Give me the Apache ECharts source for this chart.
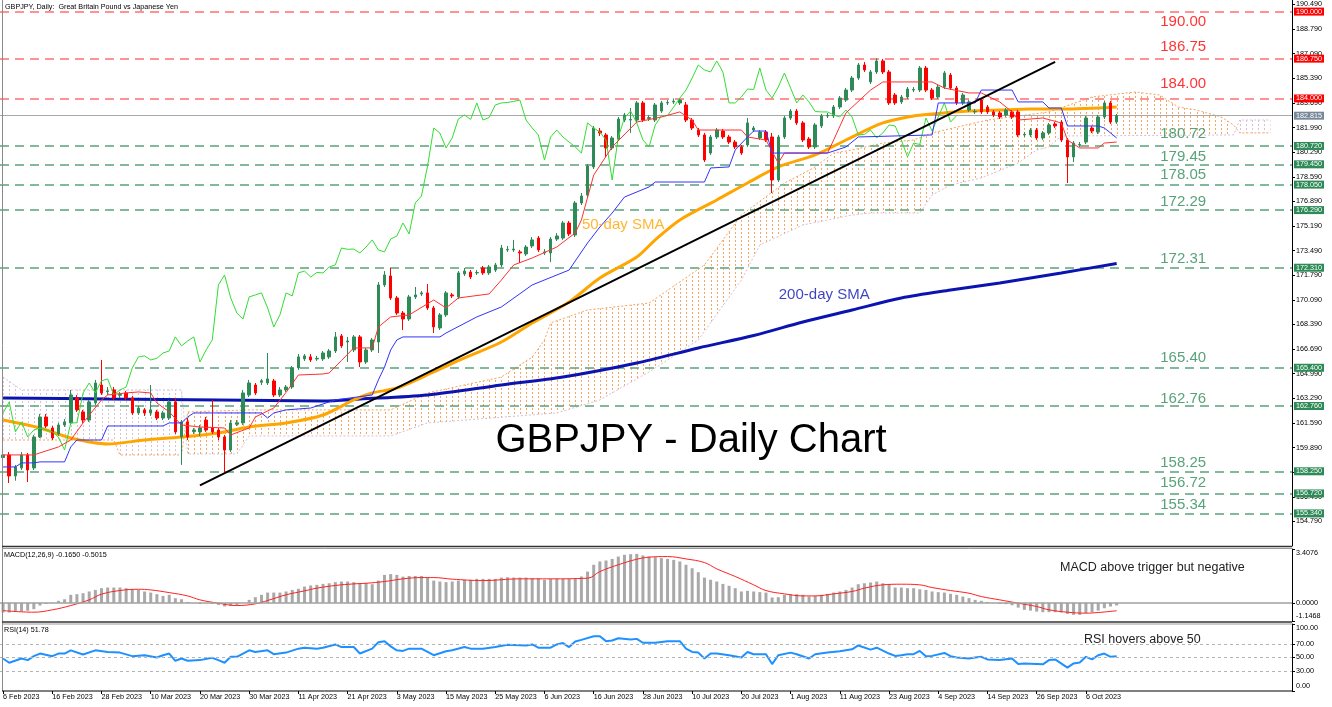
<!DOCTYPE html>
<html><head><meta charset="utf-8">
<script src="https://cdn.jsdelivr.net/npm/echarts@6/dist/echarts.min.js"></script>
<style>html,body{margin:0;padding:0;background:#fff}#c{width:1332px;height:707px}</style>
</head><body><div id="c"></div>
<script>
// ---------- DATA ----------
// daily candles [open, high, low, close], 6 Feb 2023 .. 13 Oct 2023
const ohlc = [
[159.20,159.60,158.90,159.38],[159.38,159.58,157.44,157.93],[157.93,158.69,157.60,158.55],[158.48,159.58,158.34,159.38],[159.38,159.52,157.51,158.34],
[158.48,160.76,158.34,160.62],[160.62,162.21,160.55,162.00],[162.00,162.21,161.24,161.38],[161.24,161.38,160.41,160.55],[160.83,161.59,160.69,161.45],
[161.45,161.86,161.31,161.66],[161.59,163.87,161.45,163.52],[163.31,163.52,162.35,162.49],[162.35,162.49,161.59,161.79],[161.79,163.18,161.66,163.04],
[162.97,164.56,162.83,164.35],[164.21,165.94,163.52,163.66],[163.75,164.07,163.52,163.80],[163.87,164.07,163.18,163.32],[163.50,163.73,163.31,163.55],
[163.66,163.80,163.18,163.32],[163.32,163.45,162.14,162.28],[162.28,162.76,162.14,162.62],[162.49,162.62,162.07,162.28],[162.28,164.21,162.07,162.49],
[162.35,162.49,161.79,161.93],[161.93,162.42,161.79,162.28],[161.93,163.18,161.79,163.04],[163.04,163.31,160.83,160.97],[160.62,161.79,158.69,161.66],
[161.66,161.93,160.41,160.62],[161.00,161.24,160.83,161.10],[160.97,161.45,160.69,161.24],[161.79,162.00,160.97,161.10],[161.24,163.18,160.83,160.97],
[161.10,161.24,160.41,160.62],[160.62,160.76,158.20,159.72],[159.72,161.79,159.58,161.59],[161.50,161.79,161.38,161.60],[161.59,163.87,161.45,163.66],
[163.52,164.56,163.38,164.35],[164.21,164.35,163.52,163.66],[164.40,164.63,164.21,164.50],[164.35,166.42,164.21,164.63],[164.49,164.63,163.38,163.52],
[163.52,164.07,163.38,163.87],[163.87,164.21,163.73,164.07],[164.07,165.52,163.94,165.39],[165.39,166.35,165.25,166.15],[166.01,166.35,165.87,166.22],
[166.15,166.35,165.80,165.94],[166.01,166.22,165.87,166.05],[166.01,166.56,165.87,166.42],[166.15,166.70,166.01,166.56],[166.56,167.87,166.42,167.53],
[167.60,167.73,166.77,166.91],[167.18,167.53,165.80,167.25],[166.63,167.66,166.49,167.53],[167.53,167.66,165.45,165.80],[165.80,166.77,165.66,166.63],
[166.63,167.46,166.49,167.32],[167.18,171.32,166.42,171.12],[171.12,172.08,170.98,171.81],[171.74,172.29,170.08,170.22],[170.22,170.36,169.05,169.18],
[169.18,169.32,168.01,168.77],[168.77,170.43,168.63,170.29],[170.29,170.98,170.15,170.43],[170.50,170.70,170.36,170.57],[170.57,171.18,169.39,169.53],
[169.53,169.67,167.80,168.22],[168.15,169.18,168.01,169.05],[169.05,170.70,168.91,170.57],[170.43,170.57,170.22,170.36],[170.29,172.08,170.15,171.95],
[171.88,172.29,171.74,172.08],[172.01,172.15,171.53,171.67],[171.95,172.15,171.81,171.98],[172.29,172.43,171.81,171.95],[171.95,172.50,171.81,172.36],
[172.15,172.64,172.01,172.50],[172.50,173.88,172.36,173.67],[173.54,173.81,173.40,173.58],[173.54,174.23,173.40,173.60],[173.40,173.54,172.64,173.33],
[173.26,173.88,173.12,173.74],[173.81,174.43,173.67,174.23],[174.36,174.50,173.40,173.54],[173.33,173.60,173.19,173.40],[173.33,174.43,172.70,174.29],
[174.29,174.70,174.15,174.50],[174.36,175.54,174.23,175.40],[175.40,175.54,174.50,174.64],[174.57,176.92,174.43,176.78],[176.78,177.47,176.64,177.26],
[177.33,179.47,177.19,179.34],[179.27,182.10,179.13,181.96],[181.75,181.96,181.41,181.61],[181.48,181.62,179.96,180.58],[180.58,181.41,180.44,181.27],
[181.20,182.72,181.06,182.58],[182.51,183.00,182.37,182.86],[182.51,183.34,181.62,182.55],[182.51,183.83,182.37,183.69],[183.69,183.83,182.37,182.51],
[182.62,182.86,182.44,182.68],[182.51,183.69,182.37,183.55],[183.13,183.83,183.00,183.69],[183.69,183.90,183.55,183.72],[183.76,184.00,183.62,183.80],
[183.69,184.03,183.55,183.89],[183.55,183.76,182.37,182.51],[182.51,182.65,181.82,181.96],[181.82,181.96,181.34,181.48],[181.48,181.62,179.61,179.75],
[180.23,181.48,180.10,181.34],[181.34,181.96,181.20,181.82],[181.75,181.89,181.20,181.34],[181.34,181.48,180.85,180.99],[180.99,181.13,180.51,180.65],
[180.65,180.79,180.10,180.23],[180.79,182.65,180.65,182.31],[181.82,182.10,181.68,181.96],[181.27,181.82,181.13,181.68],[181.68,181.82,180.99,181.13],
[181.34,181.62,177.47,178.37],[178.37,181.48,178.23,181.34],[181.34,182.79,181.20,182.65],[182.65,183.27,182.51,183.13],[183.13,183.27,182.17,182.31],
[182.31,182.44,180.99,181.13],[181.20,181.34,180.51,180.65],[180.65,182.31,180.51,182.17],[182.10,182.93,181.96,182.79],[182.79,183.00,182.65,182.82],
[182.79,183.55,182.65,183.41],[183.41,184.17,183.27,184.03],[183.89,184.72,183.76,184.58],[184.58,185.55,184.44,185.41],[185.41,186.45,185.28,186.31],
[186.31,186.52,185.83,185.97],[185.14,185.97,185.00,185.83],[185.83,186.77,185.69,186.59],[186.59,186.73,185.69,185.83],[185.83,185.97,183.55,183.69],
[184.24,184.38,183.55,183.69],[183.76,184.24,183.62,184.10],[184.10,184.79,183.96,184.65],[184.58,184.79,184.44,184.62],[184.58,186.24,184.44,186.10],
[186.10,186.24,184.44,184.58],[184.58,184.72,183.89,184.03],[184.10,184.93,183.96,184.79],[184.79,185.90,184.65,185.76],[185.62,185.76,184.58,184.72],
[184.72,184.86,183.55,183.69],[183.69,184.38,183.55,184.24],[183.20,183.90,183.07,183.76],[183.07,183.27,182.93,183.10],[183.89,184.03,182.93,183.07],
[183.41,183.55,182.93,183.07],[183.07,183.20,182.72,182.86],[183.00,183.13,182.58,182.72],[182.86,183.34,182.72,183.20],[183.07,183.20,182.58,182.72],
[183.07,183.20,181.34,181.48],[181.48,181.68,181.34,181.52],[181.48,181.96,181.34,181.82],[181.82,181.96,181.13,181.27],[181.27,181.75,181.13,181.62],
[181.62,182.31,181.48,182.17],[182.24,182.37,181.96,182.10],[182.37,182.51,180.99,181.13],[181.13,181.27,178.16,179.96],[179.96,181.06,179.61,180.92],
[180.79,180.99,180.65,180.82],[180.99,182.79,180.85,182.65],[181.96,182.10,181.61,181.75],[181.68,182.86,181.54,182.72],[182.72,183.83,182.58,183.69],
[183.69,183.83,182.24,182.37],[182.37,182.93,182.24,182.815]
];
// moving averages [barIndex, value]
const sma50 = [[0,161.79],[6,161.24],[11,160.55],[17,160.14],[23,160.41],[29,160.62],[35,160.90],[40,161.31],[46,161.59],[52,162.14],[57,163.18],[60,163.66],[64,164.00],[70,165.11],[75,166.08],[81,167.18],[86,168.49],[92,169.94],[97,171.60],[103,173.05],[106,174.23],[110,175.61],[116,176.99],[121,178.16],[126,179.27],[132,180.10],[137,181.13],[143,182.31],[148,182.79],[151,182.93],[157,183.13],[162,183.20],[167,183.27],[173,183.27],[178,183.34],[181,183.41]];
const sma200 = [[0,163.31],[17,163.24],[35,163.18],[52,163.11],[58,163.24],[69,163.52],[81,164.21],[91,164.76],[103,165.73],[113,166.77],[122,167.63],[130,168.56],[138,169.39],[146,170.22],[154,170.77],[162,171.26],[172,171.95],[181,172.60]];
// Ichimoku lines [barIndex, value]
const tenkan = [[0,159.38],[5,159.38],[6,159.52],[9,159.93],[11,160.41],[13,161.59],[16,163.18],[17,163.52],[20,163.66],[22,163.73],[24,163.66],[25,162.97],[27,162.35],[29,161.45],[32,161.31],[36,161.24],[37,160.76],[40,161.24],[41,162.00],[44,162.62],[46,163.70],[48,164.90],[52,164.97],[53,165.04],[55,165.90],[57,166.77],[60,166.77],[61,168.22],[63,168.91],[66,169.05],[70,170.08],[72,169.53],[74,170.22],[79,170.50],[81,171.46],[83,172.50],[86,172.98],[90,173.74],[93,174.71],[94,175.61],[96,178.71],[99,180.65],[103,182.37],[107,182.72],[110,183.07],[112,182.51],[113,181.82],[120,181.82],[121,181.34],[124,181.13],[126,179.54],[127,180.23],[134,180.23],[135,181.13],[137,183.00],[141,184.58],[143,185.14],[151,185.14],[153,184.72],[157,184.38],[159,184.38],[162,183.76],[164,183.07],[165,182.51],[169,182.65],[172,182.31],[173,181.13],[175,180.58],[178,180.58],[179,180.92],[181,180.99]];
const kijun = [[0,158.55],[2,158.55],[3,158.83],[5,158.83],[6,158.90],[10,158.90],[11,159.93],[12,160.41],[16,160.41],[17,161.38],[26,161.38],[27,161.59],[29,161.59],[30,162.00],[31,162.28],[42,162.28],[43,161.93],[44,162.28],[46,162.49],[50,162.62],[54,163.18],[60,163.52],[61,164.56],[62,165.45],[63,166.63],[64,167.32],[65,167.53],[71,167.53],[72,167.80],[77,168.91],[81,169.60],[86,171.12],[92,172.15],[95,174.02],[97,175.12],[99,176.09],[101,177.19],[105,177.89],[106,178.23],[114,178.23],[115,179.20],[118,179.27],[119,180.44],[121,181.34],[122,181.75],[124,181.75],[125,180.23],[134,180.23],[137,180.65],[139,181.34],[151,181.48],[152,183.69],[158,183.69],[159,184.58],[164,184.58],[165,183.76],[169,183.76],[170,183.34],[172,183.34],[173,182.10],[178,182.10],[179,181.96],[181,181.27]];
const spanA = [[0,160.41],[18,160.41],[19,159.38],[29,159.38],[30,162.35],[40,162.49],[63,162.49],[69,163.66],[81,164.76],[86,166.14],[88,167.32],[89,168.50],[95,169.39],[105,169.87],[114,172.50],[120,175.95],[127,178.16],[132,179.27],[135,180.23],[138,180.44],[143,180.92],[148,181.13],[151,181.62],[160,182.51],[170,183.07],[177,184.10],[184,184.45],[188,184.24],[191,183.41],[194,183.20],[198,182.72],[200,182.17],[201,181.62],[206,181.62]];
const spanB = [[0,164.76],[3,163.87],[29,163.87],[30,159.45],[38,159.45],[40,160.69],[63,160.69],[69,161.59],[90,162.28],[97,163.18],[105,165.11],[113,167.32],[120,171.46],[123,173.88],[130,175.26],[138,175.95],[141,176.09],[149,176.09],[151,177.33],[154,178.02],[159,178.51],[165,179.54],[168,180.44],[170,180.65],[172,181.41],[200,181.48],[201,182.51],[206,182.51]];
const chikouShift = 26;
const trendLine = [[32,157.28],[171,186.53]];
// MACD(12,26,9) main (histogram) per bar and signal points
const macdHist = [
-0.61,-0.61,-0.55,-0.55,-0.50,-0.40,-0.17,-0.05,0.02,0.13,
0.23,0.51,0.55,0.61,0.72,0.82,0.93,0.97,0.97,0.97,
0.93,0.87,0.82,0.72,0.65,0.55,0.44,0.51,0.30,0.23,
0.06,0.00,-0.06,0.00,-0.06,-0.13,-0.23,-0.19,-0.13,0.00,
0.19,0.36,0.51,0.65,0.65,0.65,0.72,0.82,0.89,1.03,
1.10,1.14,1.20,1.24,1.31,1.35,1.35,1.31,1.24,1.24,
1.18,1.41,1.77,1.82,1.77,1.66,1.70,1.70,1.70,1.60,
1.41,1.35,1.31,1.35,1.41,1.46,1.46,1.52,1.52,1.52,
1.52,1.60,1.62,1.60,1.60,1.60,1.56,1.56,1.46,1.52,
1.52,1.52,1.52,1.56,1.67,1.98,2.41,2.62,2.68,2.78,
2.93,3.04,3.08,3.10,3.00,2.93,2.89,2.83,2.78,2.72,
2.62,2.41,2.19,1.94,1.60,1.46,1.35,1.20,1.08,0.93,
0.72,0.76,0.72,0.68,0.65,0.34,0.36,0.51,0.55,0.55,
0.51,0.40,0.44,0.51,0.57,0.65,0.72,0.82,0.97,1.18,
1.24,1.29,1.35,1.24,1.18,0.97,0.97,0.93,0.93,0.86,
0.82,0.72,0.68,0.65,0.57,0.51,0.40,0.30,0.19,0.13,
0.06,0.00,-0.06,-0.08,-0.15,-0.30,-0.44,-0.49,-0.55,-0.59,
-0.59,-0.59,-0.61,-0.70,-0.76,-0.76,-0.65,-0.59,-0.49,-0.34,
-0.23,-0.165
];
const macdSignal = [[0,-0.49],[5,-0.59],[8,-0.44],[11,-0.17],[14,0.19],[16,0.55],[19,0.78],[22,0.86],[24,0.82],[27,0.65],[30,0.44],[32,0.19],[35,-0.02],[38,-0.17],[41,-0.06],[43,0.15],[46,0.51],[49,0.76],[51,0.93],[54,1.10],[57,1.20],[59,1.24],[62,1.35],[65,1.52],[68,1.60],[70,1.60],[73,1.50],[78,1.41],[84,1.52],[89,1.52],[95,1.56],[97,1.98],[100,2.41],[103,2.76],[105,2.89],[108,2.93],[111,2.78],[114,2.55],[116,2.15],[119,1.67],[122,1.14],[124,0.78],[127,0.57],[130,0.44],[132,0.44],[135,0.57],[138,0.72],[140,0.93],[143,1.14],[146,1.18],[149,1.14],[151,0.97],[154,0.78],[157,0.61],[159,0.40],[162,0.19],[165,-0.02],[168,-0.23],[170,-0.44],[173,-0.59],[176,-0.65],[178,-0.61],[181,-0.50]];
// RSI(14) points [barIndex, value]
const rsi14 = [[0,48.5],[1,42.2],[3,48.5],[4,46.1],[5,52.0],[6,55.9],[8,52.0],[9,55.9],[10,55.9],[11,60.7],[13,54.4],[15,60.7],[17,58.3],[19,57.3],[21,52.0],[23,53.4],[25,50.0],[26,53.4],[27,55.9],[28,45.1],[29,48.5],[30,45.1],[32,46.1],[34,49.5],[35,46.1],[36,42.2],[37,51.0],[38,51.0],[40,60.7],[41,58.3],[43,60.7],[44,54.9],[46,57.3],[48,63.2],[49,64.6],[51,63.2],[52,64.6],[54,69.5],[55,65.6],[57,65.6],[58,55.9],[60,63.2],[61,72.9],[62,74.4],[63,66.6],[64,60.7],[65,59.8],[66,63.2],[68,63.2],[70,53.4],[72,59.3],
[73,60.7],[75,65.6],[76,63.2],[78,63.2],[80,65.6],[82,69.0],[85,68.0],[86,69.5],[87,64.6],[89,64.6],[90,69.5],[91,71.5],[92,65.6],[93,73.9],[94,76.3],[96,81.7],[97,81.7],[98,74.4],[99,75.4],[100,78.8],[102,76.8],[103,77.8],[104,72.0],[106,72.0],[108,74.4],[110,74.4],[111,63.2],[112,58.3],[113,57.3],[114,48.5],[115,55.9],[116,55.9],[118,53.4],[120,50.0],[121,58.3],[122,54.9],[124,54.9],[125,40.2],[126,53.4],[128,57.3],[129,54.9],[131,48.5],[132,54.9],[134,57.3],[136,59.3],[138,62.2],[139,68.0],[141,61.7],[142,64.6],[144,55.9],[145,52.4],
[146,53.4],[147,54.9],[148,54.9],[149,59.8],[150,52.0],[151,52.4],[153,56.8],[154,52.0],[155,50.0],[157,48.5],[158,50.0],[159,51.0],[160,47.1],[162,46.1],[164,48.5],[165,40.2],[166,41.2],[169,39.8],[170,46.1],[171,47.1],[173,34.9],[174,41.2],[175,42.7],[176,51.0],[177,47.1],[178,53.4],[179,55.9],[180,51.0],[181,51.78]];
// horizontal levels
const resistanceLevels = [190.00, 186.75, 184.00];
const supportLevels = [180.72, 179.45, 178.05, 176.29, 172.31, 165.40, 162.76, 158.25, 156.72, 155.34];
const lastPrice = 182.815;
// tick labels
const priceTicks = [154.79,156.49,158.19,159.89,161.59,163.29,164.99,166.69,168.39,170.09,171.79,173.49,175.19,176.89,178.59,180.29,181.99,183.69,185.39,187.09,188.79,190.49];
const macdTicks = [3.4076, 0, -1.1468];
const rsiTicks = [100, 70, 50, 30, 0];
const rsiLevels = [70, 50, 30];
const labelEvery = 8;
const firstDay = [2023, 1, 6];            // 6 Feb 2023
const sundayBars = ['12 Mar 2023', '19 Mar 2023'];  // broker Sunday bars in the reference
// level captions placed at [barIndex, price]
const levelNotes = [
  ['190.00',188,189.28,'r'],['186.75',188,187.55,'r'],['184.00',188,185.00,'r'],
  ['180.72',188,181.55,'g'],['179.45',188,179.96,'g'],['178.05',188,178.71,'g'],['172.29',188,176.85,'g'],
  ['172.31',188,172.91,'g'],['165.40',188,166.08,'g'],['162.76',188,163.25,'g'],['158.25',188,158.83,'g'],
  ['156.72',188,157.44,'g'],['155.34',188,155.92,'g']
];
const smaNotes = [['50-day SMA',94,175.26,'#ffa500'],['200-day SMA',126,170.43,'#0c14b0']];

// ---------- BUILD ----------
const MONTHS=['Jan','Feb','Mar','Apr','May','Jun','Jul','Aug','Sep','Oct','Nov','Dec'];
const NCAT = 210;
const categories=[]; {let d=new Date(Date.UTC(firstDay[0],firstDay[1],firstDay[2]));
while(categories.length<NCAT){const wd=d.getUTCDay();
  const s=d.getUTCDate()+' '+MONTHS[d.getUTCMonth()]+' '+d.getUTCFullYear();
  if((wd!==0&&wd!==6) || sundayBars.indexOf(s)>=0) categories.push(s);
  d.setUTCDate(d.getUTCDate()+1);}}
const lastBar = ohlc.length-1;
const showLbl = (i)=> i%labelEvery===0 && i<=lastBar-5;
const FF = "'Liberation Sans', Arial, sans-serif";
const closes = ohlc.map(d=>d[3]);
const chikou = closes.slice(chikouShift).map((c,k)=>[k,c]);

const cloudSegs = [
  {from:0,to:29,color:'#d8bfd8'},
  {from:30,to:200,color:'#f4a460'},
  {from:201,to:206,color:'#d8bfd8'}
];

const RED='#ff0000', GREEN='#2e8b57';
const levelLine = (v, kind) => {
  const isR = kind==='r', isG = kind==='g';
  return {
    yAxis: v,
    lineStyle: isR ? {color:'#ff7070', type:[9,6], width:1.5} : isG ? {color:'#5aa37a', type:[9,6], width:1.5} : {color:'#a8a8a8', type:'solid', width:1},
    label: {show:true, position:'end', distance:2, formatter: v.toFixed(3), color:'#fff', fontSize:7.2, fontFamily:FF,
      backgroundColor: isR ? RED : isG ? GREEN : '#778899', padding:[1,2,0,2]}
  };
};
const markData = resistanceLevels.map(v=>levelLine(v,'r'))
  .concat([levelLine(lastPrice,'p')])
  .concat(supportLevels.map(v=>levelLine(v,'g')));

const xAx = (gi, show) => ({
  type:'category', gridIndex:gi, data:categories, boundaryGap:true,
  axisLine:{show:false},
  axisTick:{show:show, alignWithLabel:true, interval:(i)=>showLbl(i), length:3, lineStyle:{color:'#000'}},
  axisLabel:{show:show, interval:(i)=>showLbl(i), align:'left', fontSize:7.2, color:'#000', margin:3, fontFamily:FF},
  splitLine:{show:false}
});
const lineS = (data, color, width, z, extra) => Object.assign({
  type:'line', data, xAxisIndex:0, yAxisIndex:0, symbol:'none', showSymbol:false, silent:true,
  lineStyle:{color, width}, z, animation:false
}, extra||{});
// edge labels pushed inside the panel (like the reference)
const edgeRich = {t:{padding:[9,0,0,0], fontSize:7.2, fontFamily:FF, color:'#000'}, b:{padding:[0,0,9,0], fontSize:7.2, fontFamily:FF, color:'#000'}, m:{fontSize:7.2, fontFamily:FF, color:'#000'}};
const edgeFmt = (ticks, dec) => (v) => {
  const s = v.toFixed(dec);
  if (Math.abs(v-ticks[0])<1e-9) return '{t|'+s+'}';
  if (Math.abs(v-ticks[ticks.length-1])<1e-9) return '{b|'+s+'}';
  return '{m|'+s+'}';
};

const option = {
  animation:false,
  backgroundColor:'#fff',
  grid:[
    {left:-3, width:1295, top:0, height:546},
    {left:-3, width:1295, top:549, height:72},
    {left:-3, width:1295, top:624, height:67}
  ],
  xAxis:[xAx(0,false), xAx(1,false), xAx(2,true)],
  yAxis:[
    {type:'value', gridIndex:0, position:'right', min:153.09, max:190.80, scale:true,
     axisLine:{show:true, lineStyle:{color:'#000'}},
     axisTick:{show:true, length:3, customValues:priceTicks, lineStyle:{color:'#000'}},
     axisLabel:{customValues:priceTicks, formatter:(v)=>v.toFixed(3), fontSize:7.2, color:'#000', margin:4, fontFamily:FF},
     splitLine:{show:false}},
    {type:'value', gridIndex:1, position:'right', min:-1.1468, max:3.4076,
     axisLine:{show:true, lineStyle:{color:'#000'}},
     axisTick:{show:true, length:3, customValues:macdTicks, lineStyle:{color:'#000'}},
     axisLabel:{customValues:macdTicks, formatter:edgeFmt(macdTicks,4), rich:edgeRich, margin:4},
     splitLine:{show:false}},
    {type:'value', gridIndex:2, position:'right', min:0, max:100,
     axisLine:{show:true, lineStyle:{color:'#000'}},
     axisTick:{show:true, length:3, customValues:rsiTicks, lineStyle:{color:'#000'}},
     axisLabel:{customValues:rsiTicks, formatter:edgeFmt(rsiTicks,2), rich:edgeRich, margin:4},
     splitLine:{show:false}}
  ],
  series:[
    {type:'custom', name:'cloud', xAxisIndex:0, yAxisIndex:0, silent:true, z:1,
     data: cloudSegs.map(s=>[s.from, 170]),
     renderItem:function(params, api){
       const seg = cloudSegs[params.dataIndex];
       const a = spanA.filter(p=>p[0]>=seg.from && p[0]<=seg.to);
       const b = spanB.filter(p=>p[0]>=seg.from && p[0]<=seg.to).slice().reverse();
       const pts = a.concat(b).map(p=>api.coord([p[0], p[1]]));
       let top=Infinity, bot=-Infinity;
       pts.forEach(p=>{ if(p[1]<top) top=p[1]; if(p[1]>bot) bot=p[1]; });
       const kids = [];
       for (let i=seg.from; i<=seg.to; i++) {
         const x = Math.round(api.coord([i, 170])[0]) + 0.5;
         kids.push({type:'line', shape:{x1:x, y1:top, x2:x, y2:bot},
           style:{stroke:seg.color, lineWidth:1, lineDash:[2,2]}});
       }
       return {type:'group', clipPath:{type:'polygon', shape:{points:pts}}, children:kids};
     }},
    lineS(spanA, '#f4a460', 1, 2, {lineStyle:{color:'#f4a460', width:1, type:[2,2]}}),
    lineS(spanB, '#d8bfd8', 1, 2, {lineStyle:{color:'#d8bfd8', width:1, type:[2,2]}}),
    lineS(sma200, '#0c14b0', 3, 3, {smooth:0.3}),
    lineS(sma50, '#ffa500', 3, 3, {smooth:0.3}),
    {type:'candlestick', xAxisIndex:0, yAxisIndex:0, z:4, silent:true, barWidth:3,
     data: ohlc.map(d=>[d[0], d[3], d[2], d[1]]),
     itemStyle:{color:GREEN, color0:RED, borderColor:GREEN, borderColor0:RED, borderWidth:1},
     markLine:{symbol:['none','none'], silent:true, animation:false, z:3, data:markData}},
    lineS(chikou, '#33dd33', 1, 5),
    lineS(tenkan, '#ff3030', 1, 5),
    lineS(kijun, '#3232ff', 1, 5),
    lineS(trendLine, '#000', 2, 6),
    {type:'scatter', xAxisIndex:0, yAxisIndex:0, z:7, silent:true, symbolSize:1, itemStyle:{color:'rgba(0,0,0,0)'},
     data: levelNotes.map(n=>({value:[n[1], n[2]], name:n[0], label:{color: n[3]==='r' ? RED : GREEN}})),
     label:{show:true, position:'right', distance:0, formatter:(p)=>p.name, fontSize:15, fontFamily:FF}},
    {type:'scatter', xAxisIndex:0, yAxisIndex:0, z:7, silent:true, symbolSize:1, itemStyle:{color:'rgba(0,0,0,0)'},
     data: smaNotes.map(n=>({value:[n[1], n[2]], name:n[0], label:{color:n[3]}})),
     label:{show:true, position:'right', distance:0, formatter:(p)=>p.name, fontSize:15, fontFamily:FF}},
    {type:'bar', xAxisIndex:1, yAxisIndex:1, data:macdHist, barWidth:3, silent:true, z:2,
     itemStyle:{color:'#a9a9a9'},
     markLine:{symbol:['none','none'], silent:true, label:{show:false}, data:[{yAxis:0}], lineStyle:{color:'#a0a0a0', type:'solid', width:1.5}}},
    {type:'line', xAxisIndex:1, yAxisIndex:1, data:macdSignal, symbol:'none', smooth:0.4, silent:true, z:3,
     lineStyle:{color:'#ff2020', width:1}},
    {type:'line', xAxisIndex:2, yAxisIndex:2, data:rsi14, symbol:'none', silent:true, z:3,
     lineStyle:{color:'#1e90ff', width:2},
     markLine:{symbol:['none','none'], silent:true, label:{show:false}, data:rsiLevels.map(v=>({yAxis:v})), lineStyle:{color:'#b4b4b4', type:[3,3], width:1}}}
  ],
  graphic:[
    {type:'line', shape:{x1:2.5,y1:0,x2:2.5,y2:691}, style:{stroke:'#8a8a8a', lineWidth:1}, z:100},
    {type:'line', shape:{x1:2,y1:546.5,x2:1292,y2:546.5}, style:{stroke:'#333', lineWidth:1.5}, z:100},
    {type:'line', shape:{x1:2,y1:548.5,x2:1292,y2:548.5}, style:{stroke:'#9a9a9a', lineWidth:1}, z:100},
    {type:'line', shape:{x1:2,y1:622,x2:1292,y2:622}, style:{stroke:'#333', lineWidth:1.5}, z:100},
    {type:'line', shape:{x1:2,y1:624,x2:1292,y2:624}, style:{stroke:'#9a9a9a', lineWidth:1}, z:100},
    {type:'line', shape:{x1:2,y1:691,x2:1292,y2:691}, style:{stroke:'#000', lineWidth:1}, z:100},
    {type:'text', z:100, style:{x:5, y:7, text:'GBPJPY, Daily:  Great Britain Pound vs Japanese Yen', font:'7.2px '+FF, fill:'#000', textVerticalAlign:'middle'}},
    {type:'text', z:100, style:{x:4, y:555.5, text:'MACD(12,26,9) -0.1650 -0.5015', font:'7.2px '+FF, fill:'#000', textVerticalAlign:'middle'}},
    {type:'text', z:100, style:{x:4, y:630, text:'RSI(14) 51.78', font:'7.2px '+FF, fill:'#000', textVerticalAlign:'middle'}},
    {type:'text', z:100, style:{x:691, y:441, text:'GBPJPY - Daily Chart', font:'40px '+FF, fill:'#000', textAlign:'center', textVerticalAlign:'middle'}},
    {type:'text', z:100, style:{x:1060, y:568, text:'MACD above trigger but negative', font:'12.5px '+FF, fill:'#222', textVerticalAlign:'middle'}},
    {type:'text', z:100, style:{x:1084, y:640, text:'RSI hovers above 50', font:'12.5px '+FF, fill:'#222', textVerticalAlign:'middle'}}
  ]
};
const chart = echarts.init(document.getElementById('c'), null, {renderer:'canvas'});
chart.setOption(option);
</script></body></html>
